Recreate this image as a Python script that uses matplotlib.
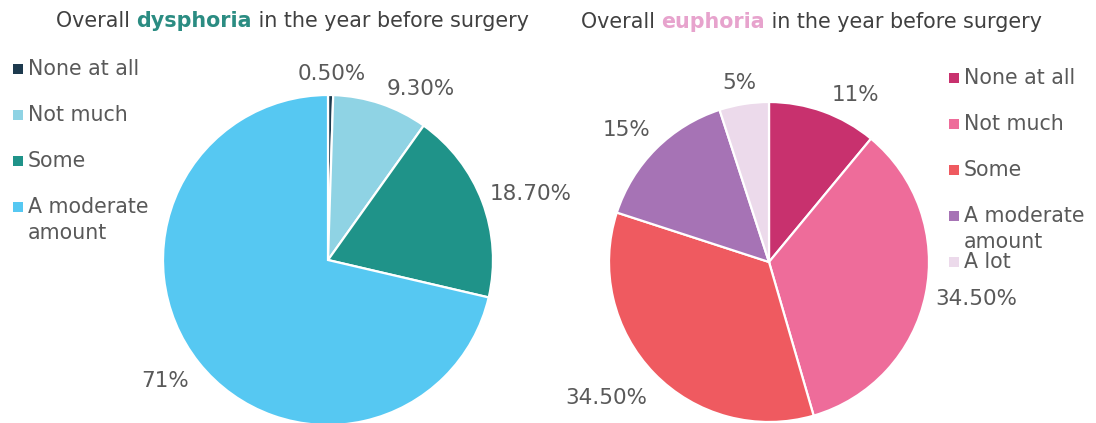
import matplotlib.pyplot as plt
import numpy as np

# dysphoria shares (%)
dys_labels = ["None at all", "Not much", "Some", "A moderate\namount"]
dys_values = [0.5, 9.3, 18.7, 71.0]
dys_text = ["0.50%", "9.30%", "18.70%", "71%"]
dys_colors = ["#1d3a4e", "#8fd3e4", "#1f9389", "#56c8f2"]

# euphoria shares (%)
eup_labels = ["None at all", "Not much", "Some", "A moderate\namount", "A lot"]
eup_values = [11.0, 34.5, 34.5, 15.0, 5.0]
eup_text = ["11%", "34.50%", "34.50%", "15%", "5%"]
eup_colors = ["#c8316e", "#ee6c9a", "#ef5a60", "#a673b5", "#ecdaeb"]

W, H = 1096, 423
fig = plt.figure(figsize=(W / 100, H / 100), dpi=100)
ax = fig.add_axes([0, 0, 1, 1])

TXT = "#595959"
renderer = fig.canvas.get_renderer()


def text_size(t):
    bb = t.get_window_extent(renderer=renderer)
    return bb.width, bb.height


def draw_title(parts, x, y, size=14.9):
    for s, color, weight in parts:
        t = ax.text(x, y, s, color=color, fontsize=size, fontweight=weight,
                    ha="left", va="baseline")
        x += text_size(t)[0]


def draw_pie(values, texts, colors, cx, cy, r, nudge, gap=11):
    wedges, _ = ax.pie(values, colors=colors, center=(cx, cy), radius=r,
                       startangle=90, counterclock=False,
                       wedgeprops=dict(edgecolor="white", linewidth=1.6))
    # data labels sit just outside the rim; nudge = (degrees, extra px)
    for w, s, (da, dr) in zip(wedges, texts, nudge):
        mid = np.deg2rad((w.theta1 + w.theta2) / 2 + da)
        t = ax.text(0, 0, s, color=TXT, fontsize=15.5, ha="center", va="center")
        tw, th = text_size(t)
        ux, uy = np.cos(mid), np.sin(mid)
        rr = r + gap + dr
        t.set_position((cx + rr * ux + tw / 2 * ux,
                        cy + rr * uy + th / 2 * uy))


def draw_legend(labels, colors, x, y, step=46):
    for i, (lab, c) in enumerate(zip(labels, colors)):
        yy = y - i * step
        ax.scatter([x], [yy], marker="s", s=55, color=c, linewidths=0)
        ax.text(x + 10, yy + 10, lab, color=TXT, fontsize=14.8, ha="left",
                va="top", linespacing=1.35)


draw_title([("Overall ", "#404040", "normal"), ("dysphoria", "#2b8c82", "bold"),
            (" in the year before surgery", "#404040", "normal")], 56, H - 27)
draw_title([("Overall ", "#404040", "normal"), ("euphoria", "#e7a3cd", "bold"),
            (" in the year before surgery", "#404040", "normal")], 581, H - 28)

draw_pie(dys_values, dys_text, dys_colors, 328, H - 260, 165,
         [(0, 0), (-7, 4), (0, 0), (0, 8)])
draw_pie(eup_values, eup_text, eup_colors, 769, H - 262, 160,
         [(-6, 4), (0, 0), (0, 14), (0, 6), (0, 0)])

draw_legend(dys_labels, dys_colors, 18, H - 69)
draw_legend(eup_labels, eup_colors, 954, H - 78)

ax.set_xlim(0, W)
ax.set_ylim(0, H)
ax.set_aspect("auto")
ax.axis("off")

fig.savefig("out.png", dpi=100, facecolor="white")
